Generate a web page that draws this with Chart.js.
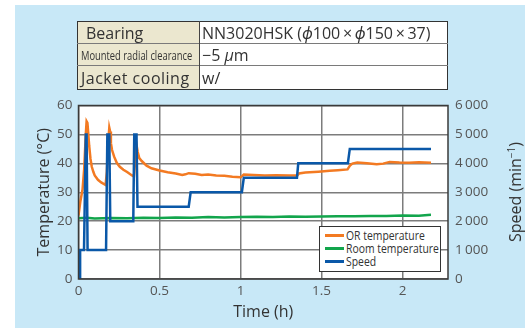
<!DOCTYPE html>
<html>
<head>
<meta charset="utf-8">
<script src="https://cdn.jsdelivr.net/npm/chart.js@4.4.0/dist/chart.umd.min.js"></script>
<style>
  html,body{margin:0;padding:0;background:#fff;}
  #page{position:relative;width:525px;height:328px;overflow:hidden;font-family:"Open Sans","Noto Sans",sans-serif;}
  #bg{position:absolute;left:15px;top:5px;width:510px;height:323px;background:#c8e8f7;}
  #cv{position:absolute;left:0;top:0;}
  table.spec{position:absolute;left:77px;top:21px;width:371px;table-layout:fixed;border-collapse:collapse;border:1.5px solid #333;color:#333;}
  table.spec td{padding:0 0 0 3px;border-top:1.5px solid #7a7a7a;white-space:nowrap;line-height:18px;overflow:hidden;}
  table.spec td.lab{background:#ebe7cf;border-right:1.5px solid #444;font-size:16px;}
  table.spec td.val{background:#fff;font-size:16px;padding-left:2px;}
  .cond{display:inline-block;width:120px;overflow:visible;transform:scaleX(0.72);transform-origin:left center;font-size:13px;}
  #ytitle2{position:absolute;left:515px;top:192px;transform:translate(-50%,-50%) rotate(-90deg);font-size:16px;color:#333;white-space:nowrap;}
  #ytitle2 sup{font-size:10px;vertical-align:6px;line-height:0;}
  #legend{position:absolute;left:319px;top:226px;width:122px;height:46px;border:1.2px solid #333;background:#fff;box-sizing:border-box;padding-top:2px;}
  #legend .row{position:relative;height:13px;}
  #legend .sw{position:absolute;left:5px;top:5px;width:19px;height:3px;}
  #legend .tx{position:absolute;left:26px;top:-2px;font-size:13px;color:#333;white-space:nowrap;display:inline-block;transform:scaleX(0.8);transform-origin:left center;line-height:16px;}
</style>
</head>
<body>
<div id="page">
  <div id="bg"></div>
  <canvas id="cv" width="525" height="328"></canvas>
  <table class="spec">
    <colgroup><col style="width:122px"><col></colgroup>
    <tr style="height:22px"><td class="lab" style="border-top:none;padding-left:8px">Bearing</td><td class="val" style="border-top:none">NN3020HSK (<i>ϕ</i>100&#8201;×&#8201;<i>ϕ</i>150&#8201;×&#8201;37)</td></tr>
    <tr style="height:22px"><td class="lab" style="overflow:visible"><span class="cond">Mounted radial clearance</span></td><td class="val">−5 <i>μ</i>m</td></tr>
    <tr style="height:24px"><td class="lab" style="letter-spacing:0.5px">Jacket cooling</td><td class="val">w/</td></tr>
  </table>
  <div id="ytitle2">Speed (min<sup>−1</sup>)</div>
  <div id="legend"></div>
</div>
<script>
// ---- data ----
const seriesNames = ['OR temperature', 'Room temperature', 'Speed'];
const seriesColors = ['#f37a22', '#12a54c', '#0a58a8'];

const orTime = [0, 0.012, 0.025, 0.035, 0.045, 0.05, 0.055, 0.06, 0.066, 0.074, 0.082, 0.092, 0.1, 0.12, 0.14, 0.167,
  0.175, 0.183, 0.19, 0.195, 0.2, 0.207, 0.22, 0.236, 0.255, 0.277, 0.3, 0.33, 0.342,
  0.35, 0.358, 0.365, 0.375, 0.39, 0.42, 0.45, 0.5, 0.55, 0.6, 0.64, 0.66, 0.68, 0.72, 0.76, 0.8, 0.85, 0.9, 0.95, 1.0,
  1.01, 1.02, 1.08, 1.15, 1.22, 1.3, 1.35, 1.36, 1.4, 1.48, 1.55, 1.6, 1.66, 1.675, 1.69, 1.72, 1.78, 1.84, 1.88, 1.92, 1.98, 2.04, 2.1, 2.175];
const orTemp = [22.0, 27.0, 31.0, 38.0, 50.0, 54.5, 54.0, 50.5, 46.0, 41.5, 38.8, 37.0, 35.8, 34.3, 33.4, 32.5,
  37.0, 47.0, 52.3, 51.0, 47.0, 44.6, 42.3, 40.2, 38.8, 37.8, 37.0, 35.8, 35.5,
  41.0, 46.4, 44.0, 41.8, 40.8, 39.2, 38.3, 37.5, 36.9, 36.5, 36.0, 36.2, 36.6, 36.4, 36.0, 36.1, 35.8, 35.7, 35.4, 35.2,
  35.6, 36.1, 36.0, 35.8, 35.9, 35.8, 35.8, 36.5, 36.8, 37.1, 37.4, 37.6, 37.9, 39.2, 39.9, 40.3, 40.0, 39.7, 39.9, 40.5, 40.3, 40.2, 40.4, 40.2];

const roomTime = [0, 0.05, 0.1, 0.2, 0.3, 0.4, 0.5, 0.6, 0.7, 0.8, 0.9, 1.0, 1.1, 1.2, 1.3, 1.4, 1.5, 1.6, 1.7, 1.8, 1.9, 2.0, 2.1, 2.175];
const roomTemp = [21.0, 21.2, 20.9, 21.1, 21.0, 21.2, 21.1, 21.3, 21.2, 21.4, 21.3, 21.4, 21.5, 21.4, 21.6, 21.5, 21.6, 21.7, 21.7, 21.8, 21.8, 22.0, 21.9, 22.2];

const speedTime = [0.01, 0.01, 0.034, 0.045, 0.05, 0.056, 0.17, 0.178, 0.19, 0.196, 0.338, 0.344, 0.358, 0.364, 0.68, 0.692, 1.008, 1.02, 1.348, 1.356, 1.662, 1.674, 2.175];
const speedValue = [0, 1000, 1000, 5000, 5000, 1000, 1000, 5000, 5000, 2000, 2000, 5000, 5000, 2500, 2500, 3000, 3000, 3500, 3500, 4000, 4000, 4500, 4500];

const xTickLabels = ['0', '0.5', '1', '1.5', '2'];
const tempTickLabels = ['0', '10', '20', '30', '40', '50', '60'];
const speedTickLabels = ['0', '1\u2009000', '2\u2009000', '3\u2009000', '4\u2009000', '5\u2009000', '6\u2009000'];

const zip = (xs, ys) => xs.map((x, i) => ({x: x, y: ys[i]}));

// ---- legend (HTML) ----
const lg = document.getElementById('legend');
seriesNames.forEach((n, i) => {
  const r = document.createElement('div'); r.className = 'row';
  r.innerHTML = '<span class="sw" style="background:' + seriesColors[i] + '"></span><span class="tx">' + n + '</span>';
  lg.appendChild(r);
});

const frame = {
  id: 'frame',
  beforeDraw(c) {
    const a = c.chartArea, ctx = c.ctx;
    ctx.save(); ctx.fillStyle = '#fff'; ctx.fillRect(a.left, a.top, a.right - a.left, a.bottom - a.top); ctx.restore();
  },
  afterDraw(c) {
    const a = c.chartArea, ctx = c.ctx;
    ctx.save(); ctx.strokeStyle = '#3a3a3a'; ctx.lineWidth = 1.5;
    ctx.strokeRect(a.left, a.top, a.right - a.left, a.bottom - a.top); ctx.restore();
  }
};

const tickFont = {family: '"Open Sans","Noto Sans",sans-serif', size: 13.5};
const titleFont = {family: '"Open Sans","Noto Sans",sans-serif', size: 16};

new Chart(document.getElementById('cv'), {
  type: 'line',
  data: {
    datasets: [
      {label: seriesNames[0], data: zip(orTime, orTemp), borderColor: seriesColors[0], borderWidth: 2.5, pointRadius: 0, yAxisID: 'y', order: 1, tension: 0},
      {label: seriesNames[1], data: zip(roomTime, roomTemp), borderColor: seriesColors[1], borderWidth: 2.5, pointRadius: 0, yAxisID: 'y', order: 2, tension: 0},
      {label: seriesNames[2], data: zip(speedTime, speedValue), borderColor: seriesColors[2], borderWidth: 2.5, pointRadius: 0, yAxisID: 'y1', order: 0, tension: 0}
    ]
  },
  options: {
    responsive: false, animation: false, devicePixelRatio: 1,
    layout: {padding: {top: 105.5, left: 0, right: 0, bottom: 0}},
    plugins: {legend: {display: false}, tooltip: {enabled: false}},
    scales: {
      x: {
        type: 'linear', position: 'bottom', min: 0, max: 2.28,
        afterFit: s => { s.height = 49; },
        ticks: {stepSize: 0.5, includeBounds: false, padding: 4, color: '#555', font: tickFont,
          callback: (v, i) => xTickLabels[i]},
        grid: {color: '#7c7c7c', lineWidth: 1.5, drawTicks: false},
        border: {display: false},
        title: {display: true, text: 'Time (h)', color: '#333', font: titleFont, padding: {top: 0, bottom: 6.4}}
      },
      y: {
        type: 'linear', position: 'left', min: 0, max: 60,
        afterFit: s => { s.width = 78.5; },
        ticks: {stepSize: 10, padding: 6, color: '#555', font: tickFont,
          callback: (v, i) => tempTickLabels[i]},
        grid: {color: '#7c7c7c', lineWidth: 1.5, drawTicks: false},
        border: {display: false},
        title: {display: true, text: 'Temperature (°C)', color: '#333', font: titleFont, padding: {top: 34.4, bottom: 0}}
      },
      y1: {
        type: 'linear', position: 'right', min: 0, max: 6000,
        afterFit: s => { s.width = 77; },
        ticks: {stepSize: 1000, padding: 7, color: '#555', font: tickFont,
          callback: (v, i) => speedTickLabels[i]},
        grid: {display: false, drawTicks: false},
        border: {display: false}
      }
    }
  },
  plugins: [frame]
});
</script>
</body>
</html>
